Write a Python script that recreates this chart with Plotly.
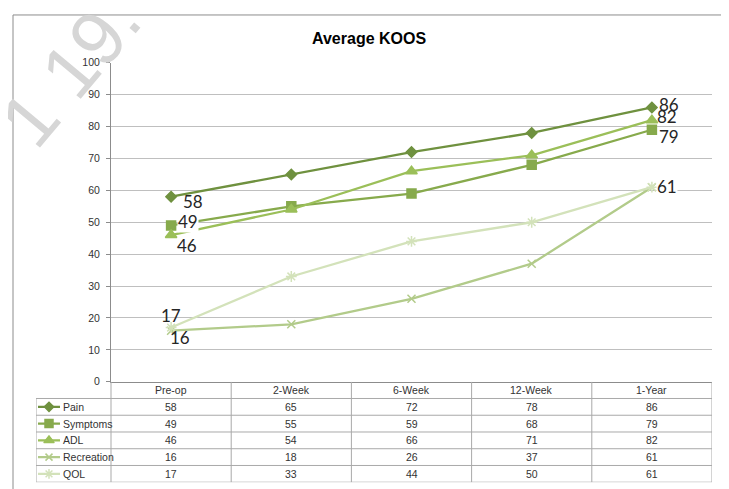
import plotly.graph_objects as go

# ---- data ----
categories = ["Pre-op", "2-Week", "6-Week", "12-Week", "1-Year"]
series_names = ["Pain", "Symptoms", "ADL", "Recreation", "QOL"]
pain = [58, 65, 72, 78, 86]
symptoms = [49, 55, 59, 68, 79]
adl = [46, 54, 66, 71, 82]
recreation = [16, 18, 26, 37, 61]
qol = [17, 33, 44, 50, 61]
y_ticks = [0, 10, 20, 30, 40, 50, 60, 70, 80, 90, 100]

series_values = [pain, symptoms, adl, recreation, qol]
colors = ["#6f913f", "#87aa4c", "#9bbf59", "#b2cb8a", "#d3e2ba"]
symbols = ["diamond", "square", "triangle-up", "x-thin-open", "asterisk-open"]
msizes = [8, 9, 10, 8, 9]

W, H = 729, 489
OFF = 8  # page offset of the figure in the browser
def px(x):
    return (x - OFF) / W
def py(y):
    return 1 - (y - OFF) / H

PL, PR, PT, PB = 111, 712, 58, 385
TL, TB = 36, 488
colw = (PR - PL) / len(categories)
left_ext = (PL - TL) / colw
x2_left = -0.5 - left_ext

fig = go.Figure()

# main lines
for name, vals, c, s, ms in zip(series_names, series_values, colors, symbols, msizes):
    fig.add_trace(go.Scatter(
        x=categories, y=vals, mode="lines+markers", name=name,
        line=dict(color=c, width=2.3),
        marker=dict(symbol=s, size=ms, color=c, line=dict(color=c, width=1.5)),
        xaxis="x", yaxis="y", showlegend=False, hoverinfo="skip"))

# legend keys inside table (x2/y2)
for r, (name, c, s, ms) in enumerate(zip(series_names, colors, symbols, msizes)):
    row = r + 1
    fig.add_trace(go.Scatter(
        x=[x2_left + 2 / colw, x2_left + 24 / colw], y=[row, row], mode="lines",
        line=dict(color=c, width=2.3), xaxis="x2", yaxis="y2",
        showlegend=False, hoverinfo="skip"))
    fig.add_trace(go.Scatter(
        x=[x2_left + 13 / colw], y=[row], mode="markers",
        marker=dict(symbol=s, size=ms - 1, color=c, line=dict(color=c, width=1.5)),
        xaxis="x2", yaxis="y2", showlegend=False, hoverinfo="skip"))

annotations = []
shapes = []

# watermark (drawn first so other texts sit above it)
annotations.append(dict(x=px(70), y=py(66), xref="paper", yref="paper", text="1 19.",
                        xanchor="center", yanchor="middle",
                        showarrow=False, textangle=-50,
                        font=dict(family="Liberation Sans, Arial, sans-serif", size=76, color="#d6d6d6")))

# data labels
label_font = dict(family="Lato, Noto Sans, sans-serif", size=17, color="#262626")
first_offsets = [(22, -5, False), (17, 4, True), (16, -10, False), (9, -7, False), (0, 12, False)]
last_offsets = [(17, 3, False), (17, -7, False), (15, 4, False), (15, 1, True), (15, 1, True)]
for k, vals in enumerate(series_values):
    for idx, offs in ((0, first_offsets[k]), (len(categories) - 1, last_offsets[k])):
        if idx == len(categories) - 1 and k == 4:
            continue
        annotations.append(dict(
            x=categories[idx], y=vals[idx], xref="x", yref="y", text=str(vals[idx]),
            showarrow=False, xshift=offs[0], yshift=offs[1], font=label_font,
            xanchor="center", yanchor="middle",
            bgcolor="white" if offs[2] else "rgba(0,0,0,0)", borderpad=0))

# table text
cell_font = dict(family="Liberation Sans, Arial, sans-serif", size=10.5, color="#333333")
for i, cat in enumerate(categories):
    annotations.append(dict(x=i, y=0, xref="x2", yref="y2", text=cat,
                            showarrow=False, font=cell_font))
    for r, vals in enumerate(series_values):
        annotations.append(dict(x=i, y=r + 1, xref="x2", yref="y2", text=str(vals[i]),
                                showarrow=False, font=cell_font))
for r, name in enumerate(series_names):
    annotations.append(dict(x=x2_left + 25 / colw, y=r + 1, xref="x2", yref="y2",
                            text=name, showarrow=False, xanchor="left", font=cell_font))

# table borders
bc = "#a9a9a9"
nrows = len(series_names) + 1
for r in range(1, nrows + 1):
    shapes.append(dict(type="line", xref="x2", yref="y2", x0=x2_left, x1=len(categories) - 0.5,
                       y0=r - 0.5, y1=r - 0.5, line=dict(color=bc, width=1)))
for i in range(len(categories) + 1):
    shapes.append(dict(type="line", xref="x2", yref="y2", x0=i - 0.5, x1=i - 0.5,
                       y0=-0.5, y1=nrows - 0.5, line=dict(color=bc, width=1)))
shapes.append(dict(type="line", xref="x2", yref="y2", x0=x2_left, x1=x2_left,
                   y0=0.5, y1=nrows - 0.5, line=dict(color=bc, width=1)))

# outer chart border
shapes.append(dict(type="rect", xref="paper", yref="paper", x0=px(13), x1=px(724),
                   y0=py(520), y1=py(9), line=dict(color="#8c8c8c", width=1),
                   fillcolor="rgba(0,0,0,0)", layer="below"))

# title
annotations.append(dict(x=px(369), y=py(33), xref="paper", yref="paper",
                        xanchor="center", yanchor="middle",
                        text="<b>Average KOOS</b>", showarrow=False,
                        font=dict(family="Liberation Sans, Arial, sans-serif", size=16, color="#000000")))

fig.update_layout(
    width=W, height=H, margin=dict(l=0, r=0, t=0, b=0),
    paper_bgcolor="white", plot_bgcolor="rgba(0,0,0,0)",
    xaxis=dict(domain=[px(PL), px(PR)], type="category", categoryorder="array",
               categoryarray=categories, range=[-0.5, len(categories) - 0.5],
               showticklabels=False, showgrid=False, zeroline=False,
               showline=True, linecolor="#8c8c8c", linewidth=1, ticks=""),
    yaxis=dict(domain=[py(PB), py(PT)], range=[0, 100], tickvals=y_ticks,
               showgrid=True, gridcolor="#bfbfbf", gridwidth=1, zeroline=False,
               showline=True, linecolor="#8c8c8c", linewidth=1,
               ticks="outside", ticklen=4, tickcolor="#8c8c8c",
               tickfont=dict(family="Liberation Sans, Arial, sans-serif", size=10.5, color="#333333"),
               ticklabelstandoff=4),
    xaxis2=dict(domain=[px(TL), px(PR)], range=[x2_left, len(categories) - 0.5],
                anchor="y2", visible=False),
    yaxis2=dict(domain=[py(TB), py(PB)], range=[nrows - 0.5, -0.5],
                anchor="x2", visible=False),
    annotations=annotations, shapes=shapes,
)

fig.write_html("out.html")
